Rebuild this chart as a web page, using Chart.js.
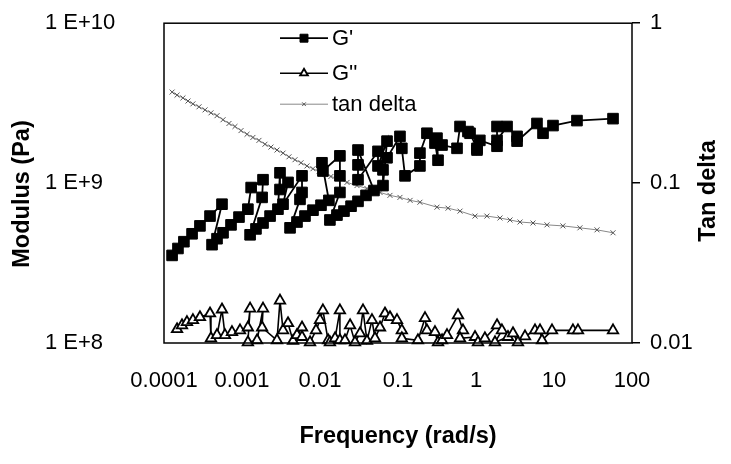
<!DOCTYPE html>
<html>
<head>
<meta charset="utf-8">
<script src="https://cdn.jsdelivr.net/npm/chart.js@4"></script>
<style>
  html, body { margin: 0; padding: 0; background: #fff; }
  #wrap { width: 731px; height: 464px; }
</style>
</head>
<body>
<div id="wrap"><canvas id="chart" width="731" height="464"></canvas></div>
<script>
// frequency sweep data: storage modulus, loss modulus, tan delta
const gPrimeFreq = [
  1.27e-4, 1.51e-4, 1.80e-4, 2.29e-4, 2.89e-4, 3.89e-4, 5.54e-4,
  4.13e-4, 4.78e-4, 5.71e-4, 7.23e-4, 9.15e-4, 1.19e-3, 1.31e-3, 1.86e-3, 1.81e-3,
  1.27e-3, 1.51e-3, 1.86e-3, 2.29e-3, 2.89e-3, 3.07e-3, 3.07e-3, 3.89e-3, 3.36e-3, 5.88e-3, 5.88e-3, 5.54e-3,
  4.13e-3, 5.07e-3, 6.42e-3, 8.13e-3, 1.03e-2, 1.30e-2, 1.06e-2, 1.09e-2, 1.80e-2, 1.80e-2, 1.80e-2,
  1.34e-2, 1.65e-2, 2.03e-2, 2.50e-2, 3.07e-2, 3.89e-2, 4.92e-2, 3.07e-2, 3.07e-2, 3.07e-2,
  5.54e-2, 5.54e-2, 7.23e-2, 6.42e-2,
  6.42e-2, 7.23e-2, 0.106, 0.112, 0.123, 0.191, 0.191, 0.235, 0.298, 0.326, 0.316, 0.367,
  0.571, 0.624, 0.789, 0.838, 1.03, 1.03, 1.12, 1.86, 1.86, 1.86, 2.50, 3.36, 3.36,
  6.05, 7.23, 9.71, 19.7, 57.1
];
const gPrime = [
  3.53e8, 3.90e8, 4.30e8, 4.82e8, 5.40e8, 6.22e8, 7.38e8,
  4.12e8, 4.49e8, 4.89e8, 5.48e8, 6.13e8, 6.87e8, 9.38e8, 1.05e9, 8.14e8,
  4.75e8, 5.17e8, 5.63e8, 6.22e8, 6.87e8, 1.16e9, 9.12e8, 1.01e9, 7.38e8, 1.11e9, 8.74e8, 7.91e8,
  5.25e8, 5.71e8, 6.22e8, 6.77e8, 7.27e8, 7.80e8, 1.34e9, 1.19e9, 1.48e9, 1.11e9, 8.74e8,
  5.88e8, 6.31e8, 6.68e8, 7.17e8, 7.69e8, 8.38e8, 8.99e8, 1.61e9, 1.30e9, 1.05e9,
  1.58e9, 1.28e9, 1.83e9, 9.65e8,
  1.21e9, 1.44e9, 1.96e9, 1.65e9, 1.11e9, 1.28e9, 1.54e9, 2.05e9, 1.78e9, 1.39e9, 1.91e9, 1.73e9,
  1.65e9, 2.26e9, 2.10e9, 2.05e9, 1.65e9, 1.61e9, 1.85e9, 1.70e9, 2.26e9, 1.85e9, 2.26e9, 1.96e9, 1.83e9,
  2.36e9, 2.05e9, 2.29e9, 2.46e9, 2.53e9
];

const gDoubleFreq = [
  1.47e-4, 1.70e-4, 1.97e-4, 2.35e-4, 2.89e-4, 3.89e-4, 4.0e-4, 4.78e-4, 5.54e-4, 6.05e-4,
  7.44e-4, 9.43e-4, 1.19e-3, 1.27e-3, 1.19e-3, 1.56e-3, 1.86e-3, 1.81e-3, 2.81e-3, 3.07e-3,
  3.36e-3, 3.89e-3, 4.51e-3, 5.07e-3, 5.88e-3, 5.88e-3, 7.45e-3, 8.89e-3, 1.0e-2, 1.09e-2,
  1.27e-2, 1.34e-2, 1.56e-2, 1.80e-2, 1.80e-2, 2.09e-2, 2.43e-2, 2.81e-2, 3.26e-2, 3.56e-2,
  4.0e-2, 4.64e-2, 5.07e-2, 5.88e-2, 6.81e-2, 7.89e-2, 9.71e-2, 0.112, 0.112, 0.180,
  0.222, 0.235, 0.298, 0.326, 0.367, 0.425, 0.588, 0.681, 0.624, 0.971,
  1.06, 1.30, 1.86, 2.15, 1.75, 2.57, 2.98, 3.45, 4.25, 5.71,
  6.62, 7.02, 9.43, 17.5, 20.3, 57.1
];
const gDouble = [
  1.22e8, 1.29e8, 1.35e8, 1.39e8, 1.45e8, 1.53e8, 1.07e8, 1.12e8, 1.62e8, 1.12e8,
  1.17e8, 1.20e8, 1.25e8, 1.64e8, 1.01e8, 1.04e8, 1.64e8, 1.25e8, 1.04e8, 1.84e8,
  1.20e8, 1.33e8, 1.03e8, 1.12e8, 1.25e8, 1.09e8, 1.01e8, 1.20e8, 1.39e8, 1.60e8,
  1.04e8, 1.01e8, 1.07e8, 1.60e8, 1.04e8, 1.04e8, 1.29e8, 1.01e8, 1.15e8, 1.60e8,
  1.03e8, 1.39e8, 1.07e8, 1.25e8, 1.53e8, 1.45e8, 1.39e8, 1.20e8, 1.07e8, 1.04e8,
  1.43e8, 1.20e8, 1.17e8, 1.01e8, 1.04e8, 1.12e8, 1.49e8, 1.20e8, 1.07e8, 1.09e8,
  1.01e8, 1.07e8, 1.29e8, 1.20e8, 1.01e8, 1.09e8, 1.15e8, 1.01e8, 1.10e8, 1.20e8,
  1.20e8, 1.04e8, 1.20e8, 1.20e8, 1.20e8, 1.20e8
];

const tanFreq = [
  1.27e-4, 1.47e-4, 1.75e-4, 2.03e-4, 2.35e-4, 2.81e-4, 3.36e-4, 4.0e-4, 4.78e-4, 5.71e-4,
  6.81e-4, 8.13e-4, 9.71e-4, 1.16e-3, 1.38e-3, 1.65e-3, 1.97e-3, 2.35e-3, 2.81e-3, 3.36e-3,
  4.0e-3, 4.78e-3, 5.71e-3, 6.81e-3, 8.13e-3, 9.71e-3, 1.16e-2, 1.38e-2, 1.65e-2, 2.22e-2,
  2.98e-2, 4.0e-2, 5.88e-2, 7.89e-2, 0.106, 0.143, 0.191, 0.316, 0.438, 0.624,
  0.971, 1.38, 2.03, 2.73, 3.67, 5.38, 8.13, 13.0, 21.5, 35.6, 57.1
];
const tanDelta = [
  0.371, 0.355, 0.341, 0.326, 0.313, 0.300, 0.287, 0.275, 0.264, 0.249,
  0.236, 0.226, 0.213, 0.202, 0.193, 0.185, 0.175, 0.168, 0.161, 0.154,
  0.146, 0.140, 0.134, 0.128, 0.123, 0.118, 0.114, 0.110, 0.107, 0.101,
  0.0965, 0.0925, 0.0874, 0.0838, 0.0814, 0.0780, 0.0759, 0.0707, 0.0697, 0.0668,
  0.0622, 0.0622, 0.0605, 0.0588, 0.0571, 0.0563, 0.0548, 0.0540, 0.0525, 0.0510, 0.0489
];

const xTicks = [0.0001, 0.001, 0.01, 0.1, 1, 10, 100];
const xTickLabels = ['0.0001', '0.001', '0.01', '0.1', '1', '10', '100'];
const yTicks = [1e8, 1e9, 1e10];
const yTickLabels = ['1 E+8', '1 E+9', '1 E+10'];
const y2Ticks = [0.01, 0.1, 1];
const y2TickLabels = ['0.01', '0.1', '1'];

const FONT = '"Liberation Sans", Arial, sans-serif';
Chart.defaults.font.family = FONT;
Chart.defaults.color = '#000';

const pairs = (xs, ys) => xs.map((x, i) => ({ x: x, y: ys[i] }));
const fixedTicks = (values) => (scale) => { scale.ticks = values.map(v => ({ value: v })); };
const tickLabel = (values, labels) => (v) => {
  const i = values.findIndex(t => Math.abs(t - v) / t < 1e-6);
  return i < 0 ? '' : labels[i];
};

// frame, axis titles and the in-plot legend
const decor = {
  id: 'decor',
  afterDatasetsDraw(chart) {
    const ctx = chart.ctx;
    const a = chart.chartArea;
    ctx.save();
    ctx.strokeStyle = '#000';
    ctx.lineWidth = 1.5;
    ctx.strokeRect(a.left, a.top, a.right - a.left, a.bottom - a.top);

    ctx.fillStyle = '#000';
    ctx.font = 'bold 23.5px ' + FONT;
    ctx.textAlign = 'center';
    ctx.textBaseline = 'middle';
    ctx.fillText('Frequency (rad/s)', (a.left + a.right) / 2, 437);

    ctx.save();
    ctx.translate(23, 194);
    ctx.rotate(-Math.PI / 2);
    ctx.fillText('Modulus (Pa)', 0, 0);
    ctx.restore();

    ctx.save();
    ctx.translate(709, 191);
    ctx.rotate(-Math.PI / 2);
    ctx.fillText('Tan delta', 0, 0);
    ctx.restore();

    // legend
    const rowY = [15, 50, 81];
    ctx.font = '22px ' + FONT;
    ctx.textAlign = 'left';
    chart.data.datasets.forEach((ds, i) => {
      const y = a.top + rowY[i];
      const x0 = a.left + 116, x1 = a.left + 164;
      ctx.save();
      ctx.strokeStyle = ds.borderColor;
      ctx.lineWidth = ds.borderWidth;
      ctx.beginPath();
      ctx.moveTo(x0, y);
      ctx.lineTo(x1, y);
      ctx.stroke();
      ctx.fillStyle = ds.pointBackgroundColor;
      ctx.strokeStyle = ds.pointBorderColor;
      ctx.lineWidth = ds.pointBorderWidth;
      Chart.helpers.drawPoint(ctx, {
        pointStyle: ds.pointStyle, radius: ds.pointRadius * 0.75,
        borderWidth: ds.pointBorderWidth, rotation: 0
      }, (x0 + x1) / 2, y);
      ctx.restore();
      ctx.fillStyle = '#000';
      ctx.fillText(ds.label, x1 + 4, y + 1);
    });
    ctx.restore();
  }
};

new Chart(document.getElementById('chart'), {
  type: 'scatter',
  data: {
    datasets: [
      {
        label: "G'",
        data: pairs(gPrimeFreq, gPrime),
        yAxisID: 'y',
        showLine: true,
        borderColor: '#000',
        borderWidth: 1.8,
        pointStyle: 'rect',
        pointRadius: 7.5,
        pointBackgroundColor: '#000',
        pointBorderColor: '#000',
        pointBorderWidth: 1,
        clip: false
      },
      {
        label: "G''",
        data: pairs(gDoubleFreq, gDouble),
        yAxisID: 'y',
        showLine: true,
        borderColor: '#000',
        borderWidth: 1.6,
        pointStyle: 'triangle',
        pointRadius: 6,
        pointBackgroundColor: '#fff',
        pointBorderColor: '#000',
        pointBorderWidth: 1.8,
        clip: false
      },
      {
        label: 'tan delta',
        data: pairs(tanFreq, tanDelta),
        yAxisID: 'y2',
        showLine: true,
        borderColor: '#888',
        borderWidth: 1,
        pointStyle: 'crossRot',
        pointRadius: 3.5,
        pointBackgroundColor: '#555',
        pointBorderColor: '#555',
        pointBorderWidth: 1,
        clip: false
      }
    ]
  },
  options: {
    responsive: false,
    animation: false,
    devicePixelRatio: 1,
    layout: { padding: { left: 45, right: 0, top: 18, bottom: 0 } },
    plugins: {
      legend: { display: false },
      tooltip: { enabled: false }
    },
    scales: {
      x: {
        type: 'logarithmic',
        min: 0.0001,
        max: 100,
        afterBuildTicks: fixedTicks(xTicks),
        afterFit: (s) => { s.height = 121; },
        grid: { display: false, drawTicks: false },
        border: { display: false },
        ticks: {
          font: { size: 22 },
          padding: 25,
          maxRotation: 0,
          autoSkip: false,
          callback: tickLabel(xTicks, xTickLabels)
        }
      },
      y: {
        type: 'logarithmic',
        position: 'left',
        min: 1e8,
        max: 1e10,
        afterBuildTicks: fixedTicks(yTicks),
        afterFit: (s) => { s.width = 119; },
        grid: { display: false, drawTicks: false },
        border: { display: false },
        ticks: {
          font: { size: 22 },
          crossAlign: 'far',
          autoSkip: false,
          callback: tickLabel(yTicks, yTickLabels)
        }
      },
      y2: {
        type: 'logarithmic',
        position: 'right',
        min: 0.01,
        max: 1,
        afterBuildTicks: fixedTicks(y2Ticks),
        afterFit: (s) => { s.width = 99; },
        grid: { drawOnChartArea: false, drawTicks: true, tickLength: 8, color: '#000', lineWidth: 1.5 },
        border: { display: false },
        ticks: {
          font: { size: 22 },
          padding: 10,
          autoSkip: false,
          callback: tickLabel(y2Ticks, y2TickLabels)
        }
      }
    }
  },
  plugins: [decor]
});
</script>
</body>
</html>
